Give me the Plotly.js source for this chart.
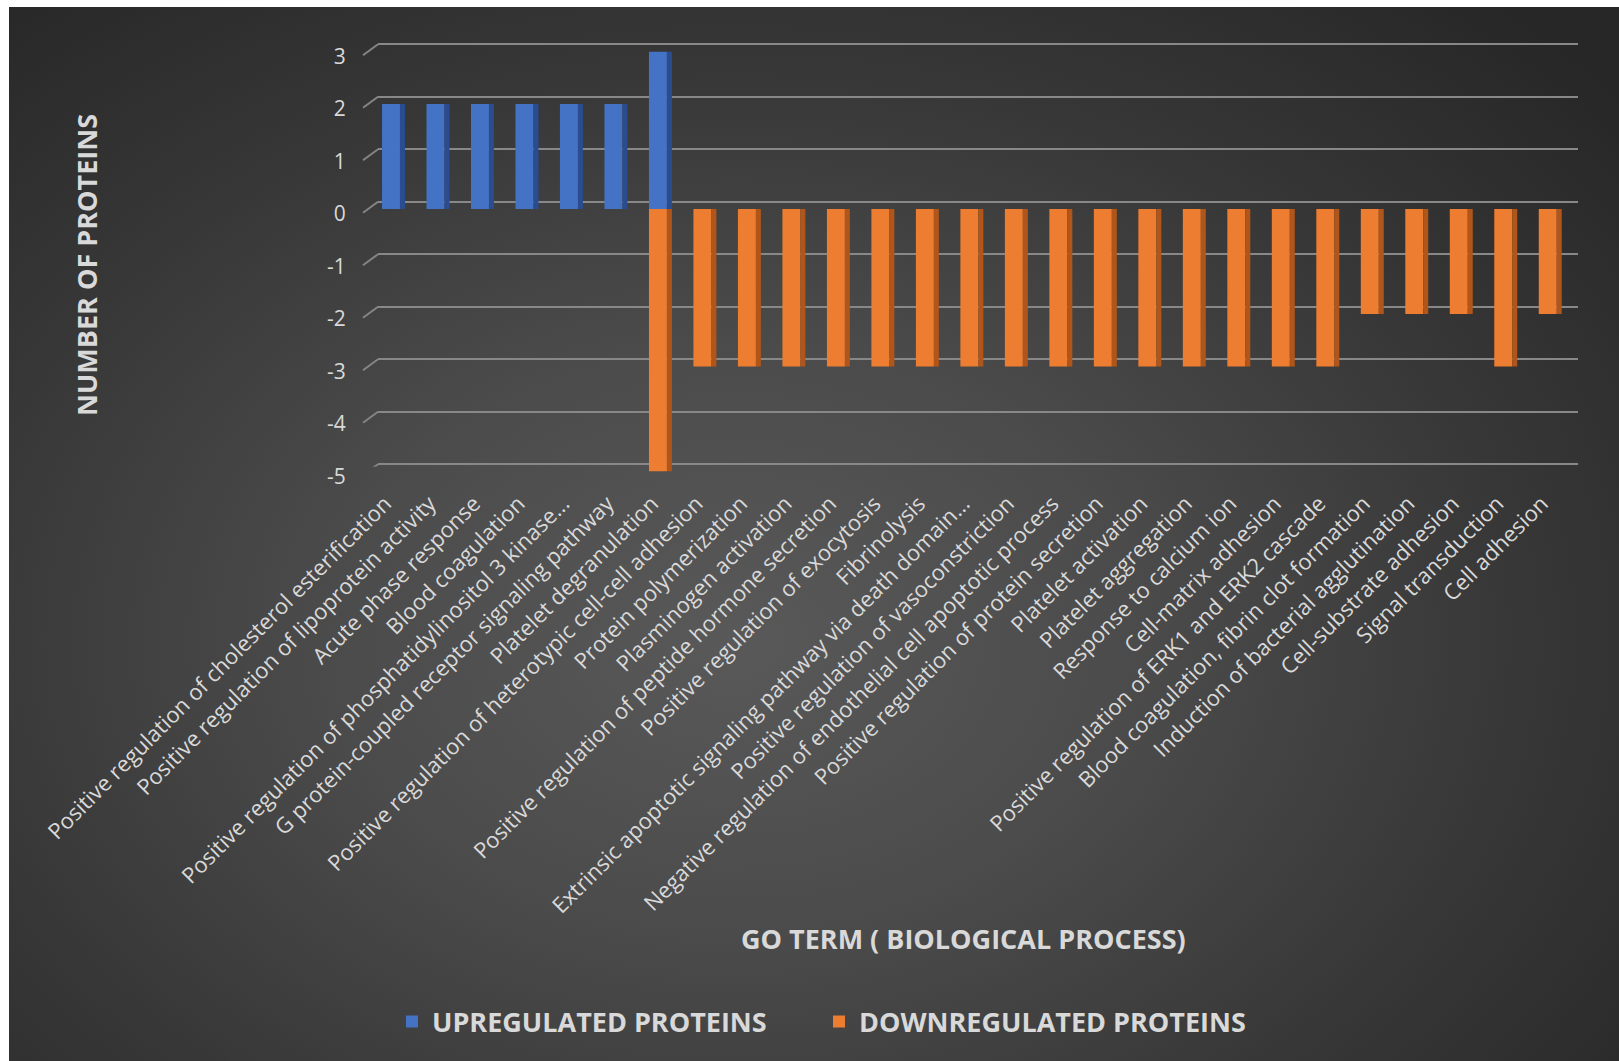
<!DOCTYPE html>
<html>
<head>
<meta charset="utf-8">
<script src="https://cdn.plot.ly/plotly-3.0.1.min.js"></script>
<style>
  html, body { margin: 0; padding: 0; background: #ffffff; width: 1619px; height: 1061px; overflow: hidden; }
  #bg { position: absolute; left: 9px; top: 7px; width: 1610px; height: 1054px;
        background: radial-gradient(ellipse 72% 80% at 45% 60%, #595959 0%, #4b4b4b 35%, #373737 68%, #272727 100%); }
  #chart { position: absolute; left: 0; top: 0; width: 1619px; height: 1061px; }
</style>
</head>
<body>
<div id="bg"></div>
<div id="chart"></div>
<script>
const categories = [
  "Positive regulation of cholesterol esterification",
  "Positive regulation of lipoprotein activity",
  "Acute phase response",
  "Blood coagulation",
  "Positive regulation of phosphatidylinositol 3 kinase...",
  "G protein-coupled receptor signaling pathway",
  "Platelet degranulation",
  "Positive regulation of heterotypic cell-cell adhesion",
  "Protein polymerization",
  "Plasminogen activation",
  "Positive regulation of peptide hormone secretion",
  "Positive regulation of exocytosis",
  "Fibrinolysis",
  "Extrinsic apoptotic signaling pathway via death domain...",
  "Positive regulation of vasoconstriction",
  "Negative regulation of endothelial cell apoptotic process",
  "Positive regulation of protein secretion",
  "Platelet activation",
  "Platelet aggregation",
  "Response to calcium ion",
  "Cell-matrix adhesion",
  "Positive regulation of ERK1 and ERK2 cascade",
  "Blood coagulation, fibrin clot formation",
  "Induction of bacterial agglutination",
  "Cell-substrate adhesion",
  "Signal transduction",
  "Cell adhesion"
];
const upregulated = [2, 2, 2, 2, 2, 2, 3, 0, 0, 0, 0, 0, 0, 0, 0, 0, 0, 0, 0, 0, 0, 0, 0, 0, 0, 0, 0];
const downregulated = [0, 0, 0, 0, 0, 0, -5, -3, -3, -3, -3, -3, -3, -3, -3, -3, -3, -3, -3, -3, -3, -3, -2, -2, -2, -3, -2];
const yTickValues = [-5, -4, -3, -2, -1, 0, 1, 2, 3];
const yTickLabels = ["-5", "-4", "-3", "-2", "-1", "0", "1", "2", "3"];
const seriesNames = ["UPREGULATED PROTEINS", "DOWNREGULATED PROTEINS"];
const xTitle = "GO TERM ( BIOLOGICAL PROCESS)";
const yTitle = "NUMBER OF PROTEINS";

const W = 1619, H = 1061;
const px = v => v / W;
const py = v => 1 - v / H;

const FRONT_W = 0.404, SIDE_W = 0.112;
const textColor = "#d9d9d9";

function frontBar(name, vals, color) {
  return {
    type: "bar", name: name, x: categories, y: vals, xaxis: "x2", yaxis: "y2",
    width: FRONT_W, offset: -FRONT_W / 2,
    marker: { color: color, line: { width: 0 } },
    hoverinfo: "x+y"
  };
}
function sideBar(name, vals, color) {
  return {
    type: "bar", name: name, x: categories, y: vals, xaxis: "x2", yaxis: "y2",
    width: SIDE_W, offset: FRONT_W / 2,
    marker: { color: color, line: { width: 0 } },
    showlegend: false, hoverinfo: "skip"
  };
}

const data = [
  frontBar(seriesNames[0], upregulated, "#4472c4"),
  frontBar(seriesNames[1], downregulated, "#ed7d31"),
  sideBar(seriesNames[0], upregulated, "#2b4d8f"),
  sideBar(seriesNames[1], downregulated, "#b0561a")
];

// Excel-like perspective ticks at the left edge of the back wall
const shapes = yTickValues.map(v => ({
  type: "line", xref: "paper", yref: "y",
  x0: px(363), x1: px(378), y0: v - 0.21, y1: v,
  line: { color: "#858585", width: 2 }, layer: "below"
}));

const PAD = 0.05, UNIT = 52.5;
const layout = {
  width: W, height: H,
  margin: { l: 0, r: 0, t: 0, b: 0, pad: 0 },
  paper_bgcolor: "rgba(0,0,0,0)",
  plot_bgcolor: "rgba(0,0,0,0)",
  barmode: "overlay",
  font: { family: "Open Sans, sans-serif", color: textColor },
  // back wall: gridlines only
  xaxis: { domain: [px(378), px(1578)], range: [0, 1], anchor: "y", visible: false, fixedrange: true },
  yaxis: {
    domain: [py(464.2 + PAD * UNIT), py(44.2 - PAD * UNIT)], range: [-5 - PAD, 3 + PAD], anchor: "x",
    tickvals: yTickValues, showticklabels: false, ticks: "",
    showgrid: true, gridcolor: "#888888", gridwidth: 2,
    zeroline: false, showline: false, fixedrange: true
  },
  // front: bars, tick labels
  xaxis2: {
    domain: [px(368.75), px(1570)], anchor: "y2", type: "category",
    showgrid: false, zeroline: false, showline: false, ticks: "",
    tickangle: -45, ticklabelstandoff: 14, ticklabelshift: -6,
    tickfont: { family: "Open Sans, sans-serif", size: 22, color: textColor },
    fixedrange: true
  },
  yaxis2: {
    domain: [py(471.5), py(51.5)], range: [-5, 3], anchor: "x2",
    tickvals: yTickValues, ticktext: yTickLabels, ticks: "", showgrid: false, zeroline: false, showline: false,
    ticklabelstandoff: 22, ticklabelshift: 5,
    tickfont: { family: "Open Sans, sans-serif", size: 21, color: textColor },
    fixedrange: true
  },
  shapes: shapes,
  annotations: [
    {
      text: yTitle, xref: "paper", yref: "paper", x: px(87), y: py(265),
      xanchor: "center", yanchor: "middle", textangle: -90, showarrow: false,
      font: { family: "Open Sans, sans-serif", size: 27, weight: 700, color: textColor }
    },
    {
      text: xTitle, xref: "paper", yref: "paper", x: px(963), y: py(938),
      xanchor: "center", yanchor: "middle", showarrow: false,
      font: { family: "Open Sans, sans-serif", size: 27, weight: 700, color: textColor }
    }
  ],
  showlegend: true,
  legend: {
    orientation: "h", x: px(392), y: py(1022), xanchor: "left", yanchor: "middle",
    bgcolor: "rgba(0,0,0,0)", borderwidth: 0,
    font: { family: "Open Sans, sans-serif", size: 27, weight: 700, color: textColor },
    traceorder: "normal", entrywidth: 382, itemclick: false, itemdoubleclick: false
  }
};

Plotly.newPlot("chart", data, layout, { displayModeBar: false, responsive: false });
</script>
</body>
</html>
